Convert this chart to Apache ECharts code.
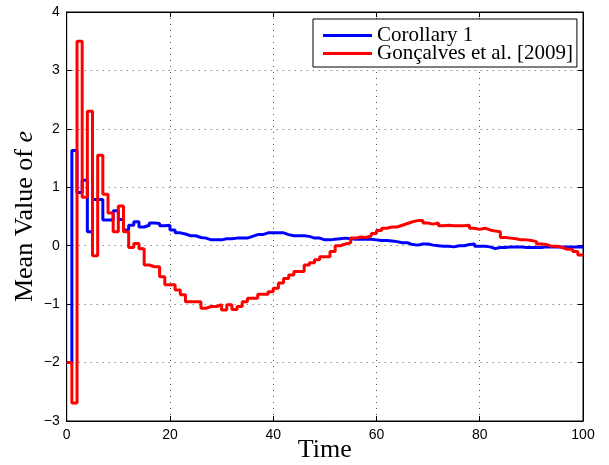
<!DOCTYPE html>
<html>
<head>
<meta charset="utf-8">
<script src="https://cdn.jsdelivr.net/npm/echarts@6/dist/echarts.min.js"></script>
<style>html,body{margin:0;padding:0;background:#fff;}#c{width:609px;height:465px;}</style>
</head>
<body>
<div id="c"></div>
<script>
var seriesNames = ['Corollary 1', 'Gonçalves et al. [2009]'];
var xTicks = [0, 20, 40, 60, 80, 100];
var yTicks = [-3, -2, -1, 0, 1, 2, 3, 4];
var corollary = [
 -2, 1.63, 0.91, 1.12, 0.24, 0.79, 0.79, 0.44, 0.44, 0.6,
 0.45, 0.27, 0.35, 0.41, 0.32, 0.35, 0.39, 0.38, 0.34, 0.35,
 0.27, 0.22, 0.2, 0.17, 0.17, 0.14, 0.13, 0.1, 0.1, 0.1,
 0.12, 0.12, 0.13, 0.13, 0.13, 0.16, 0.19, 0.19, 0.22, 0.22,
 0.22, 0.22, 0.19, 0.17, 0.17, 0.17, 0.16, 0.13, 0.13, 0.1,
 0.1, 0.11, 0.12, 0.13, 0.12, 0.11, 0.11, 0.11, 0.11, 0.1,
 0.09, 0.09, 0.08, 0.07, 0.05, 0.05, 0.02, 0.01, 0.03, 0.03,
 0.01, 0.0, -0.01, -0.01, -0.02, 0.0, 0.0, 0.02, 0.03, -0.01,
 -0.01, -0.02, -0.05, -0.03, -0.03, -0.02, -0.02, -0.02, -0.03, -0.03,
 -0.03, -0.03, -0.02, -0.02, -0.02, -0.02, -0.02, -0.02, -0.02, -0.02,
 -0.02
];
var goncalves = [
 -2, -2.69, 3.5, 0.83, 2.3, -0.17, 1.55, 0.88, 0.56, 0.24,
 0.68, 0.24, -0.03, 0.04, -0.05, -0.33, -0.36, -0.36, -0.53, -0.67,
 -0.67, -0.76, -0.84, -0.96, -0.96, -0.96, -1.07, -1.04, -1.04, -1.01,
 -1.1, -1.01, -1.09, -1.04, -0.96, -0.9, -0.9, -0.83, -0.83, -0.79,
 -0.73, -0.64, -0.56, -0.5, -0.44, -0.44, -0.33, -0.29, -0.24, -0.19,
 -0.19, -0.1, 0.0, 0.03, 0.05, 0.13, 0.15, 0.14, 0.17, 0.21,
 0.26, 0.3, 0.32, 0.32, 0.35, 0.38, 0.41, 0.43, 0.43, 0.39,
 0.37, 0.39, 0.34, 0.35, 0.34, 0.34, 0.34, 0.35, 0.3, 0.28,
 0.3, 0.27, 0.25, 0.24, 0.14, 0.13, 0.12, 0.1, 0.1, 0.09,
 0.07, 0.03, 0.02, -0.01, -0.01, -0.03, -0.06, -0.06, -0.1, -0.16,
 -0.16
];

function pairs(arr) { return arr.map(function (v, i) { return [i, v]; }); }
function minus(v) { return String(v).replace('-', '\u2212'); }

var chart = echarts.init(document.getElementById('c'), null, {renderer: 'canvas'});
var gridLine = {show: true, lineStyle: {color: '#555', type: [1, 5], width: 1}};
var labelStyle = {fontFamily: 'Liberation Sans', fontSize: 14, color: '#000'};
chart.setOption({
  animation: false,
  backgroundColor: '#fff',
  grid: {left: 66.7, right: 26, top: 12, bottom: 44, show: true, borderColor: '#000', borderWidth: 1,
         outerBoundsMode: 'none', containLabel: false},
  legend: {
    data: seriesNames,
    orient: 'vertical',
    left: 313, top: 19,
    backgroundColor: '#fff', borderColor: '#000', borderWidth: 1,
    padding: [6, 4, 3, 10],
    itemGap: -3,
    itemWidth: 49, itemHeight: 3,
    icon: 'rect',
    textStyle: {fontFamily: 'Liberation Serif', fontSize: 21, color: '#000', lineHeight: 18}
  },
  xAxis: [{
    type: 'value', min: xTicks[0], max: xTicks[xTicks.length - 1], interval: 20,
    name: 'Time', nameLocation: 'middle', nameGap: 16, nameMoveOverlap: false,
    nameTextStyle: {fontFamily: 'Liberation Serif', fontSize: 26, color: '#000'},
    axisLine: {show: true, onZero: false, lineStyle: {color: '#000'}},
    axisTick: {show: true, inside: true, length: 5, lineStyle: {color: '#000'}},
    axisLabel: Object.assign({margin: 7, formatter: minus}, labelStyle),
    splitLine: gridLine
  }, {
    type: 'value', position: 'top', min: xTicks[0], max: xTicks[xTicks.length - 1], interval: 20,
    axisLine: {show: true, onZero: false, lineStyle: {color: '#000'}},
    axisTick: {show: true, inside: true, length: 5, lineStyle: {color: '#000'}},
    axisLabel: {show: false}, splitLine: {show: false}
  }],
  yAxis: [{
    type: 'value', min: yTicks[0], max: yTicks[yTicks.length - 1], interval: 1,
    name: '{n|Mean Value of }{e|e}', nameLocation: 'middle', nameGap: 29, nameMoveOverlap: false,
    nameTextStyle: {
      rich: {
        n: {fontFamily: 'Liberation Serif', fontSize: 26, color: '#000'},
        e: {fontFamily: 'Liberation Serif', fontSize: 26, fontStyle: 'italic', color: '#000'}
      }
    },
    axisLine: {show: true, onZero: false, lineStyle: {color: '#000'}},
    axisTick: {show: true, inside: true, length: 5, lineStyle: {color: '#000'}},
    axisLabel: Object.assign({margin: 7, formatter: minus}, labelStyle),
    splitLine: gridLine
  }, {
    type: 'value', position: 'right', min: yTicks[0], max: yTicks[yTicks.length - 1], interval: 1,
    axisLine: {show: true, onZero: false, lineStyle: {color: '#000'}},
    axisTick: {show: true, inside: true, length: 5, lineStyle: {color: '#000'}},
    axisLabel: {show: false}, splitLine: {show: false}
  }],
  series: [{
    name: seriesNames[0], type: 'line', step: 'end', showSymbol: false,
    data: pairs(corollary), color: '#0000ff',
    lineStyle: {color: '#0000ff', width: 3}
  }, {
    name: seriesNames[1], type: 'line', step: 'end', showSymbol: false,
    data: pairs(goncalves), color: '#ff0000',
    lineStyle: {color: '#ff0000', width: 3}
  }]
});
</script>
</body>
</html>
